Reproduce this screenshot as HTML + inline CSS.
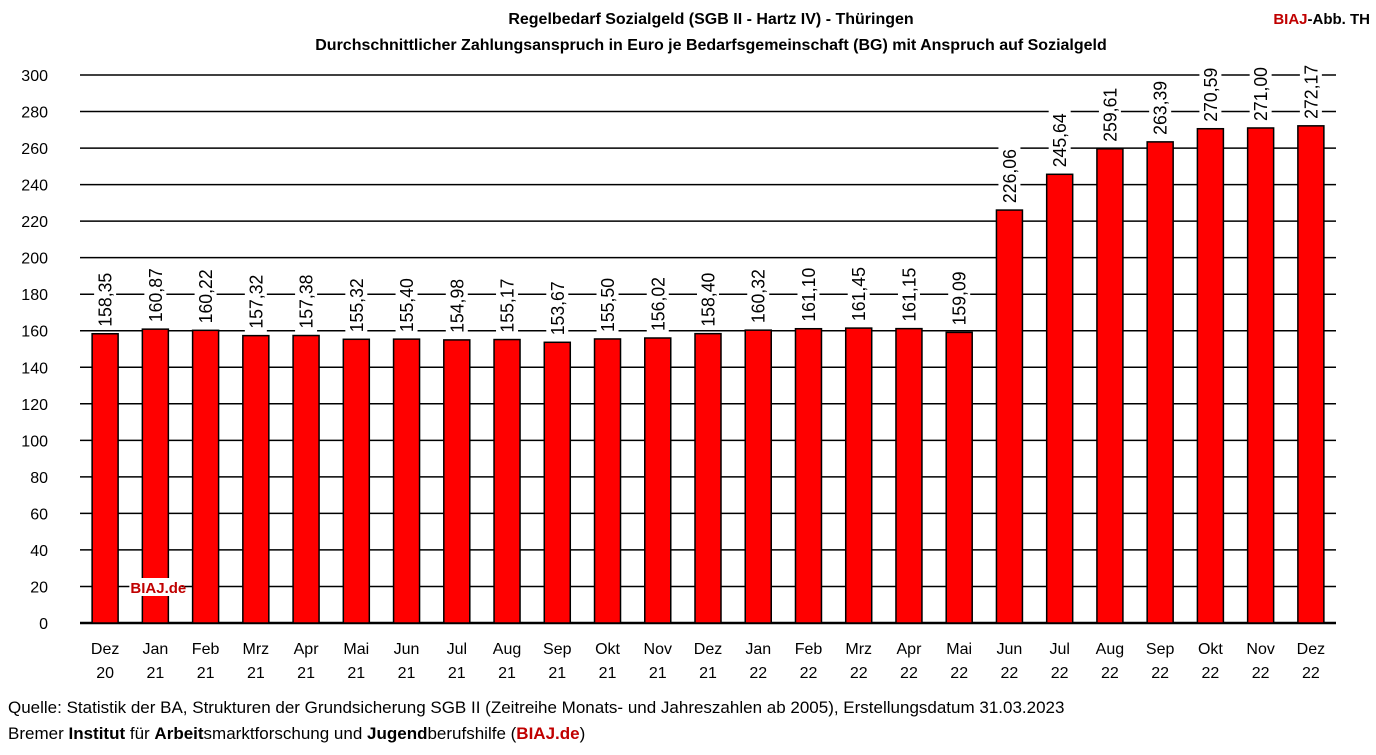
<!DOCTYPE html>
<html><head><meta charset="utf-8"><style>
body{margin:0;background:#fff;width:1376px;height:750px;overflow:hidden;font-family:"Liberation Sans",sans-serif}
svg text{font-family:"Liberation Sans",sans-serif}
</style></head><body>
<svg id="c" width="1376" height="750">
<text x="711" y="24" text-anchor="middle" font-size="16" font-weight="bold">Regelbedarf Sozialgeld (SGB II - Hartz IV) - Thüringen</text>
<text x="711" y="50" text-anchor="middle" font-size="16" font-weight="bold">Durchschnittlicher Zahlungsanspruch in Euro je Bedarfsgemeinschaft (BG) mit Anspruch auf Sozialgeld</text>
<text x="1370" y="24" text-anchor="end" font-size="15" font-weight="bold"><tspan fill="#c00000">BIAJ</tspan>-Abb. TH</text>
<g id="grid"></g><g id="bars"></g><g id="labels"></g>
<text x="8" y="713" font-size="17">Quelle: Statistik der BA, Strukturen der Grundsicherung SGB II (Zeitreihe Monats- und Jahreszahlen ab 2005), Erstellungsdatum 31.03.2023</text>
<text x="8" y="739" font-size="17">Bremer <tspan font-weight="bold">Institut</tspan> für <tspan font-weight="bold">Arbeit</tspan>smarktforschung und <tspan font-weight="bold">Jugend</tspan>berufshilfe (<tspan font-weight="bold" fill="#c00000">BIAJ.de</tspan>)</text>
</svg>
<script>
const months=["Dez","Jan","Feb","Mrz","Apr","Mai","Jun","Jul","Aug","Sep","Okt","Nov","Dez","Jan","Feb","Mrz","Apr","Mai","Jun","Jul","Aug","Sep","Okt","Nov","Dez"];
const years=["20","21","21","21","21","21","21","21","21","21","21","21","21","22","22","22","22","22","22","22","22","22","22","22","22"];
const values=[158.35,160.87,160.22,157.32,157.38,155.32,155.40,154.98,155.17,153.67,155.50,156.02,158.40,160.32,161.10,161.45,161.15,159.09,226.06,245.64,259.61,263.39,270.59,271.00,272.17];
const yTicks=[0,20,40,60,80,100,120,140,160,180,200,220,240,260,280,300];
const NS="http://www.w3.org/2000/svg";
const X0=80,X1=1336,Y0=623,Y300=75;
const y=v=>Y0-(v/300)*(Y0-Y300);
const step=(X1-X0)/values.length;
const x=i=>X0+step*(i+0.5);
function mk(t,a,p){const e=document.createElementNS(NS,t);for(const k in a)e.setAttribute(k,a[k]);p.appendChild(e);return e;}
const g=document.getElementById('grid'),b=document.getElementById('bars'),l=document.getElementById('labels');
yTicks.forEach(v=>{
 const ln=mk('line',{x1:X0,x2:X1,y1:y(v),y2:y(v),stroke:'#000','stroke-width':v===0?2.5:1.5},g);
 
 
 const t=mk('text',{x:48,y:y(v)+6,'text-anchor':'end','font-size':16},g);t.textContent=v;
 
 
});
values.forEach((v,i)=>{
 const r=mk('rect',{x:x(i)-13,y:y(v),width:26,height:Y0-y(v),fill:'#ff0000',stroke:'#000','stroke-width':1.5},b);
 
 
 const lab=v.toFixed(2).replace('.',',');
 const ty=y(v)-7, tx=x(i);
 const bg=mk('rect',{x:tx-11,y:ty-57,width:22,height:60,fill:'#fff'},l);
 
 
 const t=mk('text',{x:tx+6.5,y:ty,'font-size':18,transform:`rotate(-90 ${tx+6.5} ${ty})`,textLength:54,lengthAdjust:'spacingAndGlyphs'},l);t.textContent=lab;
 
 
 const m=mk('text',{x:tx,y:654,'text-anchor':'middle','font-size':16},l);m.textContent=months[i];
 
 
 const yr=mk('text',{x:tx,y:678,'text-anchor':'middle','font-size':16},l);yr.textContent=years[i];
 
 
});
const wb=mk('rect',{x:x(1)-26,y:578,width:52,height:18,fill:'#fff'},l);


const wm=mk('text',{x:x(1)+3,y:593,'text-anchor':'middle','font-size':15,'font-weight':'bold',fill:'#c00000'},l);wm.textContent='BIAJ.de';


</script>
</body></html>
